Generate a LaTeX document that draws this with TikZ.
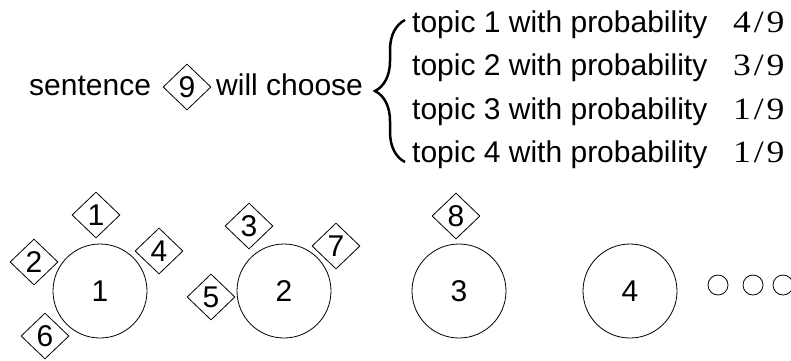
\documentclass[tikz,border=0pt]{standalone}
\usepackage{fontspec}
\setmainfont{Liberation Sans}
\newfontfamily\fracfont{Liberation Serif}
\usetikzlibrary{shapes.geometric,decorations.pathreplacing}
\tikzset{
  sent/.style={draw, diamond, inner sep=0pt, minimum width=48pt, minimum height=46pt, line width=0.8pt},
  ball/.style={draw, circle, inner sep=0pt, minimum size=94pt, line width=0.8pt},
  moreball/.style={draw, circle, inner sep=0pt, minimum size=20pt, line width=0.8pt},
  txt/.style={anchor=base west, inner sep=0pt},
  prob/.style={txt, font={\fracfont\fontsize{31}{36}\selectfont}},
}
\newcommand\frc[1]{\scalebox{1.15}[1]{#1\hspace{2.5pt}/\hspace{2.5pt}9}}

\begin{document}
\begin{tikzpicture}[x=1pt, y=-1pt]

  \fontsize{30}{36}\selectfont
  \useasboundingbox (0,0) rectangle (791,360);

  \newcommand\dy{43.5}; % row step of the topic lines

  % sentence 9 and its choice
  \node[txt] (sentence) at (29,95) {sentence};
  \node[sent] (s9) at (187,87) {9};
  \node[txt] (choose) at (216,95) {will choose};

  \coordinate (bt) at (405,20);
  \coordinate (bb) at (405,162);
  \draw[line width=2.5pt, decorate, decoration={brace, amplitude=30pt}] (bb) -- (bt);

  \foreach \k/\p in {1/4, 2/3, 3/1, 4/1} {
    \node[txt] (t\k) at (412, {32+(\k-1)*\dy}) {topic \k\ with probability};
    \node[prob] (p\k) at (733, {32+(\k-1)*\dy}) {\frc{\p}};
  }

  % tables
  \foreach \n/\x in {1/100, 2/284, 3/459, 4/630}
    \node[ball] (c\n) at (\x,291) {\n};
  \foreach \n/\x in {1/718, 2/753, 3/783}
    \node[moreball] (m\n) at (\x,285) {};

  % sentences seated at the tables
  \foreach \n/\x/\y in {1/96/215, 2/34/262, 4/159/251, 6/45/336, % table 1
                        3/249/226, 7/336/246, 5/211/297,          % table 2
                        8/456/216}                                % table 3
    \node[sent] (s\n) at (\x,\y) {\n};

\end{tikzpicture}
\end{document}
